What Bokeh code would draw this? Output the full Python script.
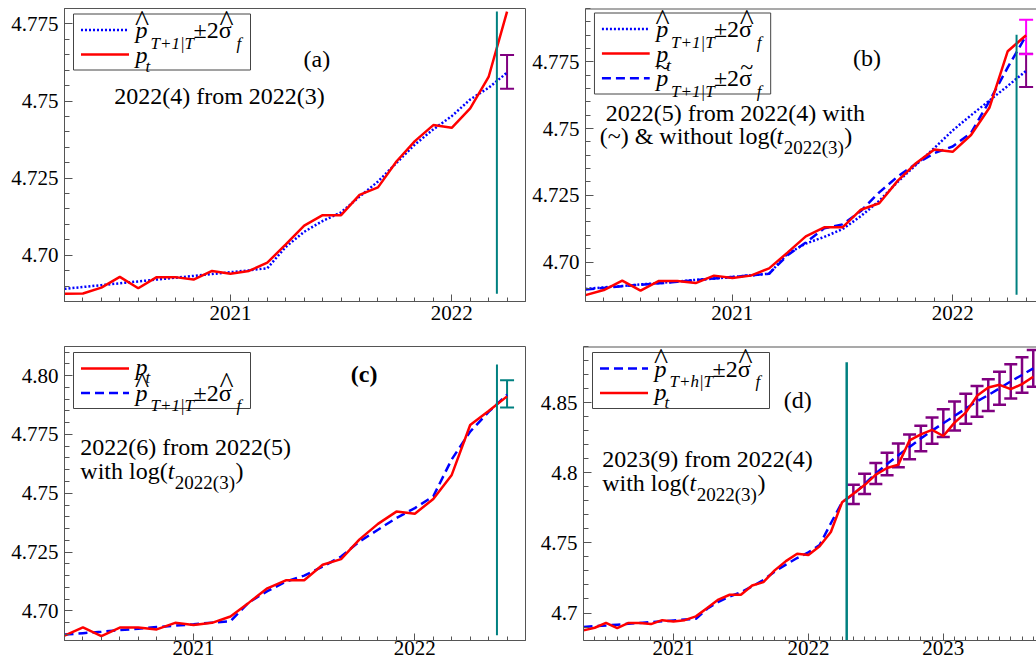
from bokeh.plotting import figure
from bokeh.models import (FixedTicker, Label, Whisker, ColumnDataSource, TeeHead, Range1d)
from bokeh.layouts import row, column
from bokeh.embed import file_html
from bokeh.resources import INLINE

# ---------------- data ----------------
# observed log price p_t, monthly from 2020(4) to 2023(9)
p_t_start = (2020, 4)
p_t = [4.6875, 4.6876, 4.6895, 4.6930, 4.6893, 4.6929, 4.6929, 4.6921, 4.6949, 4.6940, 4.6949, 4.6976,
       4.7035, 4.7096, 4.7130, 4.7130, 4.7196, 4.7220, 4.7304, 4.7370, 4.7422, 4.7413, 4.7476, 4.7578,
       4.7790, 4.7850, 4.7912, 4.7987, 4.8034, 4.8058, 4.8231, 4.8274, 4.8305, 4.8262, 4.8357, 4.8429,
       4.8548, 4.8608, 4.8627, 4.8596, 4.8632, 4.8684]

# (a) fitted / 1-step forecast, 2020(4)..2022(4)
fit_a = [4.6891, 4.6897, 4.6903, 4.6909, 4.6915, 4.6921, 4.6927, 4.6933, 4.6939, 4.6945, 4.6951, 4.6958,
         4.7027, 4.7076, 4.7111, 4.7139, 4.7190, 4.7239, 4.7299, 4.7359, 4.7408, 4.7451, 4.7505, 4.7543,
         4.7592]
# (b) without (hat) and with (tilde) log(t_2022(3)), 2020(5)..2022(5)
fit_b_hat = [4.6899, 4.6905, 4.6910, 4.6916, 4.6921, 4.6927, 4.6933, 4.6938, 4.6944, 4.6950, 4.6956,
             4.7031, 4.7069, 4.7094, 4.7123, 4.7172, 4.7229, 4.7300, 4.7364, 4.7427, 4.7493, 4.7550,
             4.7605, 4.7660, 4.7716]
fit_b_tilde = [4.6897, 4.6903, 4.6909, 4.6915, 4.6920, 4.6926, 4.6932, 4.6938, 4.6944, 4.6950, 4.6956,
               4.7025, 4.7073, 4.7126, 4.7141, 4.7191, 4.7261, 4.7320, 4.7368, 4.7408, 4.7433, 4.7484,
               4.7603, 4.7729, 4.7848]
# (c) 2020(6)..2022(6)
fit_c = [4.6899, 4.6905, 4.6911, 4.6918, 4.6924, 4.6931, 4.6937, 4.6943, 4.6950, 4.6956, 4.7036, 4.7084,
         4.7124, 4.7150, 4.7188, 4.7231, 4.7295, 4.7345, 4.7395, 4.7437, 4.7487, 4.7644, 4.7762, 4.7846,
         4.7919]
# (d) 2020(5)..2022(4) fitted, then 2022(5)..2023(9) h-step forecasts
fit_d = [4.6900, 4.6906, 4.6911, 4.6917, 4.6923, 4.6929, 4.6935, 4.6941, 4.6947, 4.6953, 4.6959, 4.7030,
         4.7080, 4.7118, 4.7148, 4.7190, 4.7235, 4.7295, 4.7345, 4.7392, 4.7432, 4.7485, 4.7640, 4.7790,
         4.7846, 4.7920, 4.7995, 4.8062, 4.8124, 4.8184, 4.8244, 4.8300, 4.8353, 4.8405, 4.8457, 4.8509,
         4.8554, 4.8602, 4.8652, 4.8697, 4.8744]
bar_half_d = [0.0069, 0.0072, 0.0075, 0.0080, 0.0085, 0.0088, 0.0091, 0.0094, 0.0099, 0.0103, 0.0107,
              0.0110, 0.0113, 0.0118, 0.0122, 0.0126, 0.0131]

# single-step +-2 sigma bands
bar_a = dict(month=(2022, 4), lower=4.7540, upper=4.7649)
bar_b_hat = dict(month=(2022, 5), lower=4.7656, upper=4.7780)
bar_b_tilde = dict(month=(2022, 5), lower=4.7779, upper=4.7908)
bar_c = dict(month=(2022, 6), lower=4.7865, upper=4.7980)

# forecast-origin markers (decimal year, y from, y to)
vline_x = [2022.204, 2022.290, 2022.371, 2022.284]
vline_lo = [4.6875, 4.6877, 4.6896, 4.6804]
vline_hi = [4.7790, 4.7852, 4.8047, 4.8787]

x_tick_years = [2021, 2022, 2023]
x_tick_labels = ["2021", "2022", "2023"]
y_ticks_abc = [4.70, 4.725, 4.75, 4.775, 4.80]
y_labels_abc = ["4.70", "4.725", "4.75", "4.775", "4.80"]
y_ticks_d = [4.70, 4.75, 4.80, 4.85]
y_labels_d = ["4.7", "4.75", "4.8", "4.85"]

# ---------------- helpers ----------------
FONT = "Liberation Serif"
AX = "#555555"
RED, BLUE, PURPLE, MAGENTA, TEAL = "#ff0000", "#0000ff", "#800080", "#ff00ff", "#008080"
DOT, DASH = "2 2", "9 5"


def mx(y, m):
    return y + (m - 1) / 12.0


def months(start, n):
    y, m = start
    return [y + (m - 1 + k) // 12 + ((m - 1 + k) % 12) / 12.0 for k in range(n)]


W = {'0': .5, '1': .5, '2': .5, '3': .5, '4': .5, '5': .5, '6': .5, '7': .5, '8': .5, '9': .5,
     '(': .333, ')': .333, ' ': .25, '~': .541, '&': .778, 'w': .722, 'i': .278, 't': .278,
     'h': .5, 'o': .5, 'u': .5, 'l': .278, 'g': .5}


def tw(s, size):
    return sum(W.get(c, .5) for c in s) * size


class Info:
    def __init__(self, p, xr, yr, fw, fh):
        self.p, self.x0, self.x1, self.y0, self.y1, self.fw, self.fh = p, xr[0], xr[1], yr[0], yr[1], fw, fh

    def dx(self, px):
        return self.x0 + px / self.fw * (self.x1 - self.x0)

    def dy(self, py):
        return self.y1 - py / self.fh * (self.y1 - self.y0)


def lab(info, px, py, text, size, style="normal", align="left"):
    py = py - 0.33 * size
    info.p.add_layout(Label(x=info.dx(px), y=info.dy(py), text=text, text_font=FONT,
                            text_font_size=f"{size}px", text_font_style=style, text_align=align,
                            text_baseline="alphabetic", text_color="black", level="overlay"))


def hat_entry(info, bx, base, sub, mark="^"):
    px = bx + 62
    lab(info, px, base, "p", 24, "italic")
    if mark == "^":
        lab(info, px + 6.5, base - 8, "^", 30, align="center")
        lab(info, px + 91, base - 8, "^", 30, align="center")
    else:
        lab(info, px + 6.5, base - 11, "~", 24, align="center")
        lab(info, px + 91, base - 11, "~", 24, align="center")
    lab(info, px + 15, base + 11, sub, 17, "italic")
    lab(info, px + 58, base, "\u00b12\u03c3", 24)
    lab(info, px + 101, base + 11, "f", 17, "italic")


def pt_entry(info, bx, base):
    px = bx + 62
    lab(info, px, base, "p", 24, "italic")
    lab(info, px + 10, base + 9, "t", 17, "italic")


def log_line(info, px, py, prefix):
    w = tw(prefix, 24)
    lab(info, px, py, prefix, 24)
    lab(info, px + w, py, "t", 24, "italic")
    sx = px + w + 7.2
    lab(info, sx, py + 10, "2022(3)", 19)
    lab(info, sx + tw("2022(3)", 19) + 0.5, py, ")", 24)


def legend_box(info, styles, bx=9, by=5.5):
    """styles: list of (color, dash) for each row; draws frame + key lines."""
    n = len(styles)
    bh = 14 + n * 17 + (n - 1) * 8
    info.p.quad(left=[info.dx(bx)], right=[info.dx(bx + 177)], top=[info.dy(by)],
                bottom=[info.dy(by + bh)], fill_color="white", fill_alpha=1.0,
                line_color="#444444", line_width=1)
    for k, (col, dash) in enumerate(styles):
        yy = info.dy(by + 16 + 24.6 * k)
        info.p.line(x=[info.dx(bx + 7.5), info.dx(bx + 55.5)], y=[yy, yy], line_color=col,
                    line_width=2.5, line_dash=dash)
    return by


def make_fig(xr, yr, width, height, mb, ymaj, ylab, yminor_step, right_open, xstand):
    p = figure(width=width, height=height, x_range=Range1d(*xr), y_range=Range1d(*yr),
               output_backend="svg", toolbar_location=None,
               min_border_left=mb[0], min_border_right=mb[1], min_border_top=mb[2],
               min_border_bottom=mb[3])
    p.xgrid.visible = False
    p.ygrid.visible = False
    p.background_fill_color = "white"
    p.border_fill_color = "white"
    p.outline_line_color = None if right_open else AX
    yrs = [v for v in x_tick_years if xr[0] <= v <= xr[1]]
    labs = [l for v, l in zip(x_tick_years, x_tick_labels) if xr[0] <= v <= xr[1]]
    minor = [v for v in months((2020, 1), 48) if xr[0] <= v <= xr[1]]
    xa = p.xaxis[0]
    xa.ticker = FixedTicker(ticks=[float(v) for v in yrs], minor_ticks=minor)
    xa.major_label_overrides = {float(v): l for v, l in zip(yrs, labs)}
    yt = [v for v in ymaj if yr[0] <= v <= yr[1]]
    yl = [l for v, l in zip(ymaj, ylab) if yr[0] <= v <= yr[1]]
    nmin = int(round((yr[1] - 4.65) / yminor_step)) + 1
    yminor = [round(4.65 + k * yminor_step, 4) for k in range(nmin)]
    yminor = [v for v in yminor if yr[0] <= v <= yr[1]]
    ya = p.yaxis[0]
    ya.ticker = FixedTicker(ticks=yt, minor_ticks=yminor)
    ya.major_label_overrides = {v: l for v, l in zip(yt, yl)}
    for ax in (xa, ya):
        ax.axis_line_color = AX
        ax.axis_line_width = 1
        ax.major_tick_line_color = AX
        ax.minor_tick_line_color = AX
        ax.major_tick_out = 0
        ax.minor_tick_out = 0
        ax.major_label_text_font = FONT
        ax.major_label_text_font_size = "21px"
        ax.major_label_text_color = "black"
    xa.major_tick_in = 7
    xa.minor_tick_in = 4
    xa.major_label_standoff = xstand
    ya.major_tick_in = 8
    ya.minor_tick_in = 5
    ya.major_label_standoff = 6
    if right_open:
        # top frame edge (right side is cut by the window)
        p.line(x=[xr[0], xr[1]], y=[yr[1], yr[1]], line_color=AX, line_width=2)
    return p


def whisk(p, base, lower, upper, color, width, cap):
    src = ColumnDataSource(dict(base=base, lower=lower, upper=upper))
    p.add_layout(Whisker(source=src, base="base", lower="lower", upper="upper", dimension="height",
                         line_color=color, line_width=width,
                         upper_head=TeeHead(size=cap, line_color=color, line_width=width),
                         lower_head=TeeHead(size=cap, line_color=color, line_width=width)))


# ---------------- layout geometry (page has no margin) ----------------
LW, RW = 529, 507
TH, BH = 338, 326
L_MB, R_MB = (64, 4), (54, 0)
T_MB, B_MB = (8, 37), (8, 24)
FW_L, FW_R = LW - sum(L_MB), RW - sum(R_MB)
FH_T, FH_B = TH - sum(T_MB), BH - sum(B_MB)
REF_FW = 461.0

# ---------------- panel (a) ----------------
xr_a = (mx(2020, 4), mx(2022, 5))
yr_a = (4.685, 4.780)
pa = make_fig(xr_a, yr_a, LW, TH, L_MB + T_MB, y_ticks_abc, y_labels_abc, 0.005, False, 4)
ia = Info(pa, xr_a, yr_a, FW_L, FH_T)
whisk(pa, [mx(*bar_a["month"])], [bar_a["lower"]], [bar_a["upper"]], PURPLE, 2, 14)
xa_ = months((2020, 4), 25)
pa.line(xa_, fit_a, line_color=BLUE, line_width=2.5, line_dash=DOT)
pa.line(xa_, p_t[0:25], line_color=RED, line_width=2.5)
pa.segment(x0=[vline_x[0]], y0=[vline_lo[0]], x1=[vline_x[0]], y1=[vline_hi[0]], line_color=TEAL, line_width=2)
by = legend_box(ia, [(BLUE, DOT), (RED, "solid")])
hat_entry(ia, 9, by + 24, "T+1|T")
pt_entry(ia, 9, by + 49)
lab(ia, 239, 58.7, "(a)", 24)
lab(ia, 49.7, 95, "2022(4) from 2022(3)", 24)

# ---------------- panel (b) ----------------
xr_b_full = (mx(2020, 5), mx(2022, 6))
xr_b = (xr_b_full[0], xr_b_full[0] + (xr_b_full[1] - xr_b_full[0]) * FW_R / REF_FW)
yr_b = (4.6852, 4.795)
pb = make_fig(xr_b, yr_b, RW, TH, R_MB + T_MB, y_ticks_abc, y_labels_abc, 0.005, True, 4)
ib = Info(pb, xr_b, yr_b, FW_R, FH_T)
whisk(pb, [mx(*bar_b_hat["month"])], [bar_b_hat["lower"]], [bar_b_hat["upper"]], PURPLE, 2, 14)
whisk(pb, [mx(*bar_b_tilde["month"])], [bar_b_tilde["lower"]], [bar_b_tilde["upper"]], MAGENTA, 2, 14)
xb_ = months((2020, 5), 25)
pb.line(xb_, fit_b_hat, line_color=BLUE, line_width=2.5, line_dash=DOT)
pb.line(xb_, fit_b_tilde, line_color=BLUE, line_width=2.5, line_dash=DASH)
pb.line(xb_, p_t[1:26], line_color=RED, line_width=2.5)
pb.segment(x0=[vline_x[1]], y0=[vline_lo[1]], x1=[vline_x[1]], y1=[vline_hi[1]], line_color=TEAL, line_width=2)
by = legend_box(ib, [(BLUE, DOT), (RED, "solid"), (BLUE, DASH)], by=4.5)
hat_entry(ib, 9, by + 24, "T+1|T")
pt_entry(ib, 9, by + 49)
hat_entry(ib, 9, by + 73, "T+1|T", mark="~")
lab(ib, 268.7, 57.7, "(b)", 24)
lab(ib, 20.3, 112, "2022(5) from 2022(4) with", 24)
log_line(ib, 14.3, 135.3, "(~) & without log(")

# ---------------- panel (c) ----------------
xr_c = (mx(2020, 6), mx(2022, 7))
yr_c = (4.6874, 4.8124)
pc = make_fig(xr_c, yr_c, LW, BH, L_MB + B_MB, y_ticks_abc, y_labels_abc, 0.005, False, 0)
ic = Info(pc, xr_c, yr_c, FW_L, FH_B)
whisk(pc, [mx(*bar_c["month"])], [bar_c["lower"]], [bar_c["upper"]], TEAL, 2, 14)
xc_ = months((2020, 6), 25)
pc.line(xc_, fit_c, line_color=BLUE, line_width=2.5, line_dash=DASH)
pc.line(xc_, p_t[2:27], line_color=RED, line_width=2.5)
pc.segment(x0=[vline_x[2]], y0=[vline_lo[2]], x1=[vline_x[2]], y1=[vline_hi[2]], line_color=TEAL, line_width=2)
by = legend_box(ic, [(RED, "solid"), (BLUE, DASH)], by=6)
pt_entry(ic, 9, by + 22)
hat_entry(ic, 9, by + 48, "T+1|T")
lab(ic, 286.3, 35.5, "(c)", 24, "bold")
lab(ic, 15.8, 108.9, "2022(6) from 2022(5)", 24)
log_line(ic, 15.8, 132.5, "with log(")

# ---------------- panel (d) ----------------
xr_d_full = (mx(2020, 5), mx(2023, 10))
xr_d = (xr_d_full[0], xr_d_full[0] + (xr_d_full[1] - xr_d_full[0]) * FW_R / REF_FW)
yr_d = (4.6804, 4.890)
pd_ = make_fig(xr_d, yr_d, RW, BH, R_MB + B_MB, y_ticks_d, y_labels_d, 0.01, True, 0)
idd = Info(pd_, xr_d, yr_d, FW_R, FH_B)
bars_x = months((2022, 5), 17)
bars_c = fit_d[24:]
whisk(pd_, bars_x, [c - h for c, h in zip(bars_c, bar_half_d)],
      [c + h for c, h in zip(bars_c, bar_half_d)], PURPLE, 2.5, 13)
xd_ = months((2020, 5), 41)
pd_.line(xd_, fit_d, line_color=BLUE, line_width=2.5, line_dash=DASH)
pd_.line(xd_, p_t[1:42], line_color=RED, line_width=2.5)
pd_.segment(x0=[vline_x[3]], y0=[vline_lo[3]], x1=[vline_x[3]], y1=[vline_hi[3]], line_color=TEAL, line_width=2.5)
by = legend_box(idd, [(BLUE, DASH), (RED, "solid")], by=6)
hat_entry(idd, 9, by + 24, "T+h|T")
pt_entry(idd, 9, by + 47)
lab(idd, 200.3, 61, "(d)", 24)
lab(idd, 18.7, 120.7, "2023(9) from 2022(4)", 24)
log_line(idd, 18.7, 144, "with log(")

layout = column(row(pa, pb), row(pc, pd_))
open("out.html", "w").write(file_html(layout, INLINE))
